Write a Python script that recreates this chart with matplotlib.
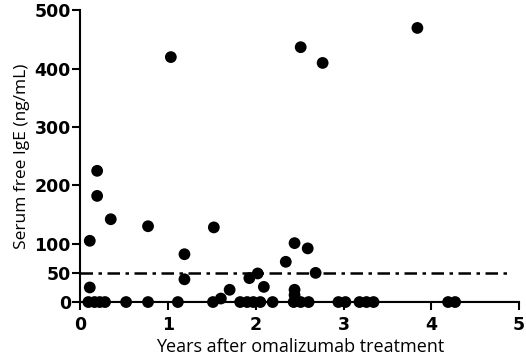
import matplotlib
matplotlib.use("Agg")
import matplotlib.pyplot as plt

# years after treatment vs serum free IgE (ng/mL)
years = [0.09, 0.16, 0.22, 0.28, 0.52, 0.77, 1.11, 1.51, 1.82, 1.90, 1.97, 2.05,
         2.19, 2.43, 2.51, 2.60, 2.94, 3.02, 3.18, 3.26, 3.34, 4.19, 4.27,
         0.106, 0.106, 0.19, 0.19, 0.345, 0.77, 1.52, 1.185, 1.185,
         1.60, 1.70, 1.925, 2.02, 2.09, 2.34, 2.44, 2.59, 2.68, 2.44, 2.44,
         1.03, 2.51, 2.76, 3.84]
ige = [0, 0, 0, 0, 0, 0, 0, 0, 0, 0, 0, 0,
       0, 0, 0, 0, 0, 0, 0, 0, 0, 0, 0,
       105, 25, 225, 182, 142, 130, 128, 82, 39,
       6, 21, 41, 49, 26, 69, 101, 92, 50, 21, 12,
       420, 437, 410, 470]
cutoff = 50
xticks = [0, 1, 2, 3, 4, 5]
yticks = [0, 50, 100, 200, 300, 400, 500]

fig = plt.figure(figsize=(5.26, 3.6), dpi=100)
ax = fig.add_axes([0.153, 0.161, 0.834, 0.81])

ax.plot([0, 4.88], [cutoff, cutoff], color='black', lw=1.8,
        dashes=(5, 2.2, 1.4, 2.2), zorder=1)
ax.axhline(0, color='black', lw=1.5, zorder=1)
ax.scatter(years, ige, s=72, color='black', edgecolors='none', zorder=3, clip_on=False)

ax.set_xlim(0, 5)
ax.set_ylim(0, 500)
ax.set_xticks(xticks)
ax.set_yticks(yticks)
for s in ['top', 'right']:
    ax.spines[s].set_visible(False)
for s in ['left', 'bottom']:
    ax.spines[s].set_linewidth(1.5)
ax.tick_params(width=1.5, length=6, labelsize=12.5)
ax.tick_params(axis='x', pad=4)
ax.tick_params(axis='y', pad=1)
for lab in ax.get_xticklabels() + ax.get_yticklabels():
    lab.set_fontweight('bold')
    lab.set_family('DejaVu Sans')

ax.set_xlabel('Years after omalizumab treatment', fontsize=13, family='Open Sans', labelpad=3)
ax.set_ylabel('Serum free IgE (ng/mL)', fontsize=12.5, family='Open Sans', labelpad=3)

fig.savefig('out.png', dpi=100)
